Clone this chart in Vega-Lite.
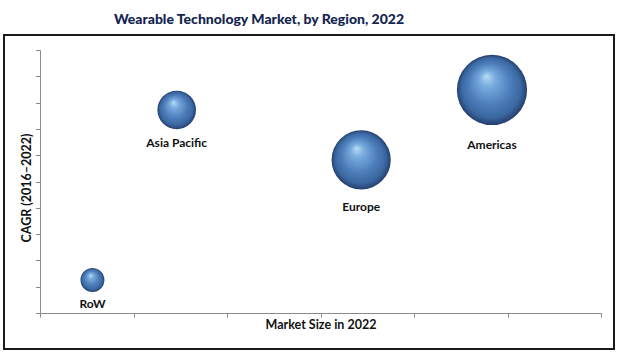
{
  "$schema": "https://vega.github.io/schema/vega-lite/v6.json",
  "autosize": {"type": "none"},
  "width": 610,
  "height": 314,
  "padding": {"left": 4, "top": 35, "right": 5, "bottom": 7},
  "background": "white",
  "title": {
    "text": "Wearable Technology Market, by Region, 2022",
    "font": "Lato",
    "fontSize": 14,
    "fontWeight": 900,
    "color": "#13254f",
    "anchor": "middle",
    "dx": -50,
    "baseline": "alphabetic",
    "offset": -3
  },
  "data": {
    "values": [
      {"region": "RoW", "market": 0.561, "cagr": 1.255},
      {"region": "Asia Pacific", "market": 1.462, "cagr": 7.72},
      {"region": "Europe", "market": 3.435, "cagr": 5.82},
      {"region": "Americas", "market": 4.834, "cagr": 8.48}
    ]
  },
  "encoding": {
    "x": {
      "field": "market",
      "type": "quantitative",
      "scale": {"domain": [0, 6], "range": [36, 597], "nice": false, "zero": false},
      "axis": {
        "title": "Market Size in 2022",
        "orient": "bottom",
        "offset": -36,
        "values": [0, 1, 2, 3, 4, 5, 6],
        "labels": false,
        "grid": false,
        "domainColor": "#8a8a8a",
        "tickColor": "#8a8a8a",
        "tickSize": 4,
        "titleFont": "Lato",
        "titleFontSize": 12.5,
        "titleFontWeight": "bold",
        "titleColor": "#111111",
        "titlePadding": 1
      }
    },
    "y": {
      "field": "cagr",
      "type": "quantitative",
      "scale": {"domain": [0, 10], "range": [278, 15], "nice": false, "zero": false},
      "axis": {
        "title": "CAGR (2016–2022)",
        "orient": "left",
        "offset": -36,
        "values": [0, 1, 2, 3, 4, 5, 6, 7, 8, 9, 10],
        "labels": false,
        "grid": false,
        "domainColor": "#8a8a8a",
        "tickColor": "#8a8a8a",
        "tickSize": 4.5,
        "titleFont": "Lato",
        "titleFontSize": 12.5,
        "titleFontWeight": "bold",
        "titleColor": "#111111",
        "titlePadding": 1.5,
        "titleY": 152.5
      }
    }
  },
  "layer": [
    {
      "mark": {
        "type": "point",
        "shape": "circle",
        "filled": true,
        "opacity": 1,
        "strokeWidth": 0,
        "fill": {
          "gradient": "radial",
          "x1": 0.42, "y1": 0.3, "r1": 0,
          "x2": 0.5, "y2": 0.5, "r2": 0.5,
          "stops": [
            {"offset": 0, "color": "#b8def8"},
            {"offset": 0.22, "color": "#79acdf"},
            {"offset": 0.6, "color": "#4c7dba"},
            {"offset": 0.85, "color": "#3a67a0"},
            {"offset": 1, "color": "#253f6e"}
          ]
        }
      },
      "encoding": {
        "size": {
          "field": "market",
          "type": "quantitative",
          "scale": {"domain": [0, 6], "range": [0, 6120], "zero": true},
          "legend": null
        }
      }
    },
    {
      "mark": {
        "type": "text",
        "font": "Lato",
        "fontSize": 12,
        "fontWeight": "bold",
        "color": "#111111",
        "baseline": "middle",
        "align": "center",
        "theta": 3.14159
      },
      "encoding": {
        "text": {"field": "region", "type": "nominal"},
        "radius": {
          "field": "market",
          "type": "quantitative",
          "scale": {"type": "sqrt", "domain": [0, 6], "range": [7.5, 60], "zero": false, "nice": false}
        }
      }
    }
  ],
  "config": {
    "view": {"stroke": "#1a1a1a", "strokeWidth": 2}
  }
}
